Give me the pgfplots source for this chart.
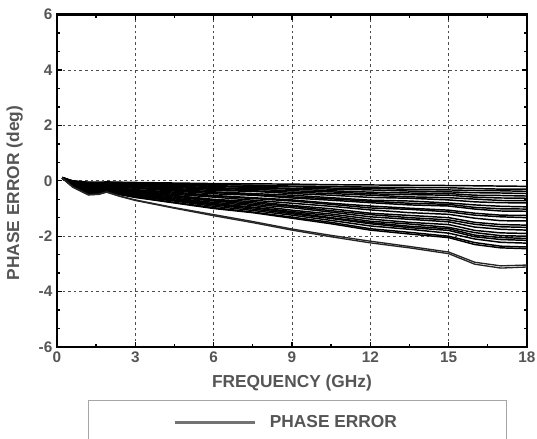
\documentclass[border=0pt]{standalone}
\usepackage{fontspec}
\setmainfont{Liberation Sans}
\usepackage{pgfplots}
\usepackage{pgfplotstable}
\pgfplotsset{compat=1.18}
\definecolor{txt}{HTML}{555555}

% one row per measured curve, transposed below
\pgfplotstableread{
name v1 v2 v3 v4 v5 v6 v7 v8 v9 v10 v11 v12 v13 v14 v15 v16 v17 v18
x 0.2 0.6 1.2 1.6 1.9 2.4 3 4.5 6 7.5 9 10.5 12 13.5 15 16 17 18
c1 0.12 0.00 -0.05 -0.05 -0.04 -0.05 -0.06 -0.08 -0.10 -0.11 -0.12 -0.14 -0.15 -0.16 -0.17 -0.18 -0.19 -0.20
c2 0.12 -0.01 -0.06 -0.08 -0.05 -0.07 -0.09 -0.11 -0.13 -0.16 -0.19 -0.20 -0.23 -0.24 -0.25 -0.28 -0.30 -0.30
c3 0.12 -0.02 -0.09 -0.08 -0.07 -0.08 -0.11 -0.13 -0.18 -0.20 -0.21 -0.26 -0.27 -0.31 -0.33 -0.35 -0.36 -0.38
c4 0.11 -0.03 -0.10 -0.11 -0.08 -0.10 -0.13 -0.17 -0.20 -0.24 -0.27 -0.30 -0.33 -0.37 -0.40 -0.43 -0.44 -0.46
c5 0.12 -0.03 -0.12 -0.12 -0.09 -0.12 -0.15 -0.19 -0.25 -0.28 -0.30 -0.36 -0.41 -0.44 -0.46 -0.52 -0.53 -0.55
c6 0.11 -0.04 -0.13 -0.14 -0.11 -0.13 -0.17 -0.21 -0.28 -0.31 -0.36 -0.40 -0.47 -0.50 -0.52 -0.59 -0.62 -0.63
c7 0.12 -0.05 -0.15 -0.14 -0.12 -0.16 -0.18 -0.24 -0.31 -0.36 -0.41 -0.46 -0.52 -0.58 -0.61 -0.66 -0.71 -0.72
c8 0.11 -0.06 -0.16 -0.17 -0.13 -0.17 -0.20 -0.28 -0.35 -0.38 -0.46 -0.52 -0.60 -0.63 -0.69 -0.76 -0.79 -0.80
c9 0.11 -0.07 -0.19 -0.18 -0.15 -0.19 -0.24 -0.31 -0.40 -0.46 -0.52 -0.61 -0.70 -0.73 -0.80 -0.87 -0.92 -0.94
c10 0.11 -0.08 -0.20 -0.19 -0.17 -0.22 -0.25 -0.35 -0.42 -0.50 -0.58 -0.65 -0.74 -0.81 -0.85 -0.96 -1.01 -1.02
c11 0.11 -0.08 -0.22 -0.21 -0.17 -0.23 -0.27 -0.37 -0.47 -0.52 -0.62 -0.70 -0.79 -0.87 -0.91 -1.02 -1.09 -1.10
c12 0.11 -0.09 -0.24 -0.25 -0.20 -0.26 -0.32 -0.41 -0.53 -0.61 -0.69 -0.81 -0.91 -0.99 -1.06 -1.17 -1.24 -1.25
c13 0.11 -0.10 -0.26 -0.25 -0.21 -0.27 -0.33 -0.45 -0.55 -0.64 -0.73 -0.85 -0.98 -1.03 -1.12 -1.24 -1.30 -1.33
c14 0.11 -0.11 -0.28 -0.27 -0.23 -0.30 -0.36 -0.49 -0.59 -0.70 -0.81 -0.92 -1.05 -1.15 -1.21 -1.35 -1.44 -1.45
c15 0.10 -0.12 -0.30 -0.31 -0.25 -0.33 -0.39 -0.53 -0.67 -0.75 -0.89 -1.01 -1.17 -1.25 -1.33 -1.50 -1.58 -1.60
c16 0.11 -0.13 -0.32 -0.31 -0.27 -0.34 -0.42 -0.55 -0.70 -0.80 -0.92 -1.08 -1.22 -1.33 -1.41 -1.57 -1.66 -1.68
c17 0.11 -0.14 -0.33 -0.34 -0.28 -0.36 -0.44 -0.59 -0.73 -0.85 -0.97 -1.13 -1.30 -1.39 -1.48 -1.67 -1.75 -1.78
c18 0.10 -0.15 -0.36 -0.35 -0.30 -0.39 -0.47 -0.63 -0.78 -0.89 -1.06 -1.20 -1.38 -1.50 -1.58 -1.79 -1.88 -1.90
c19 0.10 -0.16 -0.37 -0.38 -0.31 -0.41 -0.50 -0.65 -0.82 -0.95 -1.11 -1.26 -1.46 -1.56 -1.68 -1.87 -1.98 -2.00
c20 0.10 -0.17 -0.39 -0.38 -0.33 -0.42 -0.51 -0.69 -0.85 -0.97 -1.15 -1.33 -1.51 -1.64 -1.73 -1.96 -2.05 -2.08
c21 0.10 -0.18 -0.40 -0.39 -0.34 -0.44 -0.53 -0.71 -0.87 -1.02 -1.19 -1.36 -1.55 -1.69 -1.79 -2.02 -2.12 -2.15
c22 0.10 -0.18 -0.42 -0.41 -0.35 -0.46 -0.56 -0.73 -0.92 -1.07 -1.24 -1.43 -1.63 -1.75 -1.89 -2.10 -2.22 -2.25
c23 0.10 -0.19 -0.44 -0.43 -0.37 -0.48 -0.59 -0.78 -0.97 -1.13 -1.31 -1.50 -1.73 -1.86 -2.00 -2.23 -2.36 -2.39
c24 0.10 -0.20 -0.45 -0.45 -0.38 -0.50 -0.60 -0.80 -1.00 -1.15 -1.35 -1.55 -1.78 -1.92 -2.05 -2.30 -2.42 -2.45
l1 0.10 -0.22 -0.50 -0.48 -0.40 -0.55 -0.69 -0.97 -1.22 -1.47 -1.74 -1.97 -2.18 -2.37 -2.57 -2.94 -3.07 -3.04
l2 0.10 -0.23 -0.51 -0.49 -0.41 -0.56 -0.71 -0.99 -1.26 -1.51 -1.78 -2.02 -2.24 -2.42 -2.63 -3.01 -3.15 -3.11
}\raw
\pgfplotstabletranspose[colnames from=name]\phase\raw

\begin{document}
\begin{tikzpicture}
\begin{axis}[
    scale only axis,
    width=352.5pt, height=249.4pt,
    at={(0pt,0pt)}, anchor=south west,
    xmin=0, xmax=18, ymin=-6, ymax=6,
    xtick={0,3,...,18}, ytick={-6,-4,...,6},
    minor x tick num=1, minor y tick num=2,
    tick align=inside,
    major tick length=4pt, minor tick length=2.5pt,
    every tick/.style={black, line width=1pt},
    axis line style={line width=1.6pt},
    grid=major,
    major grid style={black!70, line width=0.6pt, dash pattern=on 2pt off 2.2pt},
    tick label style={font=\bfseries\fontsize{11.5}{13}\selectfont, text=txt},
    /pgf/number format/assume math mode=true,
    label style={font=\bfseries\fontsize{13}{16}\selectfont, text=txt},
    xlabel={FREQUENCY (GHz)},
    ylabel={PHASE ERROR (deg)},
    xlabel style={at={(axis description cs:0.5,-0.108)}, anchor=center},
    ylabel style={at={(axis description cs:-0.09,0.463)}, anchor=center},
    legend image code/.code={\draw[#1] (0pt,0pt) -- (60pt,0pt);},
    legend style={at={(axis description cs:0.066,-0.16)}, anchor=north west,
        draw=black!35, line width=0.8pt, fill=white,
        inner xsep=64pt, inner ysep=9pt,
        /tikz/every odd column/.append style={column sep=8pt},
        font=\bfseries\fontsize{13}{16}\selectfont, text=txt},
]
\pgfplotsinvokeforeach{1,...,24}{
    \addplot[black, line width=1.1pt, forget plot] table[x=x, y=c#1]{\phase};
}
\addplot[black!85, line width=1pt, forget plot] table[x=x, y=l1]{\phase};
\addplot[black!85, line width=1pt, forget plot] table[x=x, y=l2]{\phase};
\addlegendimage{black!55, line width=2pt}
\addlegendentry{PHASE ERROR\hspace*{16pt}}
\end{axis}
\pgfresetboundingbox
\useasboundingbox (-42.75pt,-68.25pt) rectangle (360pt,260.3pt);
\end{tikzpicture}
\end{document}
